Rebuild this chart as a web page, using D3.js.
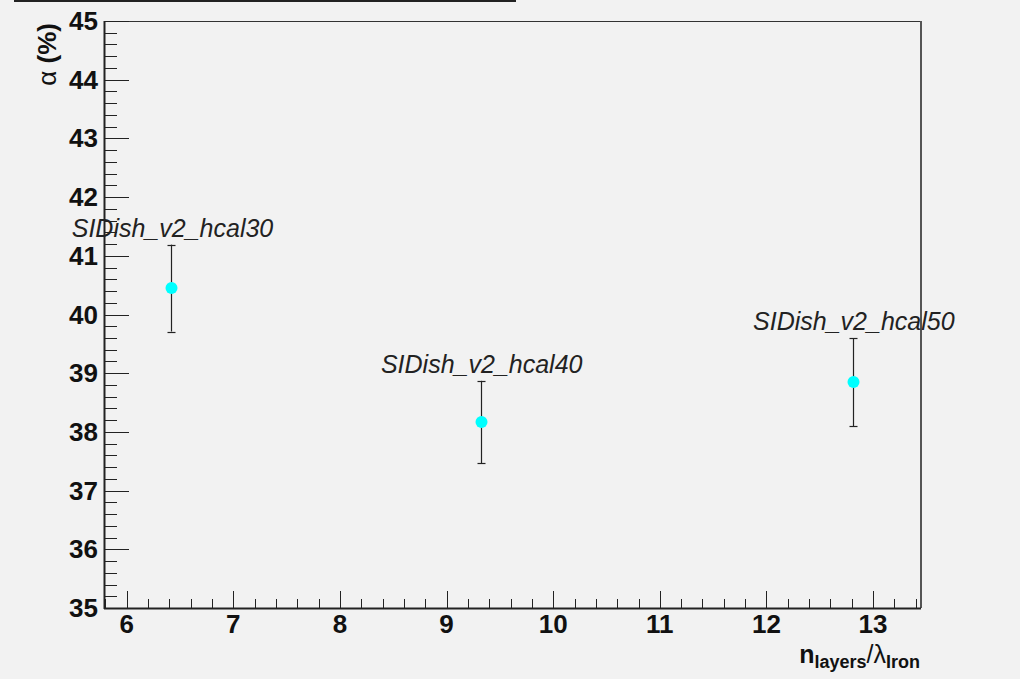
<!DOCTYPE html>
<html>
<head>
<meta charset="utf-8">
<script src="https://cdn.jsdelivr.net/npm/d3@7"></script>
<style>
  body { margin: 0; background: #f2f2f2; }
  svg { display: block; font-family: "Liberation Sans", Arial, sans-serif; }
</style>
</head>
<body>
<div id="chart"></div>
<script>
// geometry names and measured values
const names = ["SIDish_v2_hcal30", "SIDish_v2_hcal40", "SIDish_v2_hcal50"];
const xValues = [6.42, 9.32, 12.81];
const alphaValues = [40.45, 38.17, 38.85];
const alphaErrors = [0.74, 0.70, 0.75];
const xTicks = [6, 7, 8, 9, 10, 11, 12, 13];
const yTicks = [35, 36, 37, 38, 39, 40, 41, 42, 43, 44, 45];

const width = 1020, height = 679;
const frame = { left: 104, right: 920, top: 21, bottom: 608 };

const svg = d3.select("#chart").append("svg")
  .attr("width", width)
  .attr("height", height);

svg.append("rect").attr("width", width).attr("height", height).attr("fill", "#f2f2f2");

// leftover of the title box
svg.append("line")
  .attr("x1", 14).attr("x2", 516).attr("y1", 1).attr("y2", 1)
  .attr("stroke", "#222").attr("stroke-width", 2);

const x = d3.scaleLinear().domain([5.787, 13.44]).range([frame.left, frame.right]);
const y = d3.scaleLinear().domain([35, 45]).range([frame.bottom, frame.top]);
// snap to pixel centres so 1px lines stay crisp
const px = v => Math.round(v) + 0.5;

// frame
svg.append("rect")
  .attr("x", frame.left + 0.5).attr("y", frame.top + 0.5)
  .attr("width", frame.right - frame.left).attr("height", frame.bottom - frame.top)
  .attr("fill", "none").attr("stroke", "#333").attr("stroke-width", 1);
svg.append("line")
  .attr("x1", frame.right + 1).attr("x2", frame.right + 1)
  .attr("y1", frame.top).attr("y2", frame.bottom)
  .attr("stroke", "#555").attr("stroke-width", 2);

// minor ticks every 0.2
const xMinor = d3.range(29, 68).map(d => d / 5).filter(d => d > 5.79 && d < 13.44 && d % 1 !== 0);
const yMinor = d3.range(175, 226).map(d => d / 5).filter(d => d % 1 !== 0);

// x axis
const xAxis = svg.append("g");
xAxis.append("line")
  .attr("x1", frame.left).attr("x2", frame.right + 1)
  .attr("y1", frame.bottom + 0.5).attr("y2", frame.bottom + 0.5)
  .attr("stroke", "#222").attr("stroke-width", 2);
xAxis.selectAll("line.xmaj").data(xTicks).enter().append("line")
  .attr("class", "xmaj")
  .attr("x1", d => px(x(d))).attr("x2", d => px(x(d)))
  .attr("y1", frame.bottom).attr("y2", frame.bottom - 17)
  .attr("stroke", "#222").attr("stroke-width", 1);
xAxis.selectAll("line.xmin").data(xMinor).enter().append("line")
  .attr("class", "xmin")
  .attr("x1", d => px(x(d))).attr("x2", d => px(x(d)))
  .attr("y1", frame.bottom).attr("y2", frame.bottom - 9)
  .attr("stroke", "#222").attr("stroke-width", 1);
xAxis.selectAll("text").data(xTicks).enter().append("text")
  .attr("x", d => x(d)).attr("y", 633)
  .attr("text-anchor", "middle")
  .attr("font-size", 26).attr("font-weight", "bold").attr("fill", "#111")
  .text(d => d);

// y axis
const yAxis = svg.append("g");
yAxis.append("line")
  .attr("x1", frame.left + 0.5).attr("x2", frame.left + 0.5)
  .attr("y1", frame.top).attr("y2", frame.bottom + 1)
  .attr("stroke", "#222").attr("stroke-width", 2);
yAxis.selectAll("line.ymaj").data(yTicks).enter().append("line")
  .attr("class", "ymaj")
  .attr("x1", frame.left).attr("x2", frame.left + 25)
  .attr("y1", d => px(y(d))).attr("y2", d => px(y(d)))
  .attr("stroke", "#222").attr("stroke-width", 1);
yAxis.selectAll("line.ymin").data(yMinor).enter().append("line")
  .attr("class", "ymin")
  .attr("x1", frame.left).attr("x2", frame.left + 13)
  .attr("y1", d => px(y(d))).attr("y2", d => px(y(d)))
  .attr("stroke", "#222").attr("stroke-width", 1);
yAxis.selectAll("text").data(yTicks).enter().append("text")
  .attr("x", 98).attr("y", d => y(d) + 9)
  .attr("text-anchor", "end")
  .attr("font-size", 26).attr("font-weight", "bold").attr("fill", "#111")
  .text(d => d);

// axis titles
const xt = svg.append("text")
  .attr("x", frame.right).attr("y", 663)
  .attr("text-anchor", "end").attr("fill", "#111").attr("font-weight", "bold");
xt.append("tspan").attr("font-size", 25).text("n");
xt.append("tspan").attr("font-size", 18).attr("dy", 5).text("layers");
xt.append("tspan").attr("font-size", 25).attr("dy", -5).attr("font-weight", "normal").text("/λ");
xt.append("tspan").attr("font-size", 18).attr("dy", 5).text("Iron");

const yt = svg.append("text")
  .attr("transform", `translate(56, 23) rotate(-90)`)
  .attr("text-anchor", "end").attr("fill", "#111").attr("font-size", 26);
yt.append("tspan").text("α ");
yt.append("tspan").attr("font-weight", "bold").text("(%)");

// points with error bars and labels
const pts = d3.range(names.length).map(i => ({
  name: names[i], x: xValues[i], y: alphaValues[i], e: alphaErrors[i]
}));

const g = svg.selectAll("g.pt").data(pts).enter().append("g").attr("class", "pt");
g.append("line")
  .attr("x1", d => px(x(d.x))).attr("x2", d => px(x(d.x)))
  .attr("y1", d => y(d.y + d.e)).attr("y2", d => y(d.y - d.e))
  .attr("stroke", "#222").attr("stroke-width", 1.2);
g.selectAll("line.cap").data(d => [d.y + d.e, d.y - d.e].map(v => ({ x: d.x, v }))).enter().append("line")
  .attr("class", "cap")
  .attr("x1", d => px(x(d.x)) - 4).attr("x2", d => px(x(d.x)) + 4)
  .attr("y1", d => px(y(d.v))).attr("y2", d => px(y(d.v)))
  .attr("stroke", "#222").attr("stroke-width", 1.2);
g.append("circle")
  .attr("cx", d => px(x(d.x))).attr("cy", d => y(d.y))
  .attr("r", 6).attr("fill", "#00ffff");
g.append("text")
  .attr("x", d => x(d.x) + 1).attr("y", d => y(d.y + d.e) - 8)
  .attr("text-anchor", "middle")
  .attr("font-size", 25).attr("font-style", "italic").attr("fill", "#222")
  .text(d => d.name);
</script>
</body>
</html>
